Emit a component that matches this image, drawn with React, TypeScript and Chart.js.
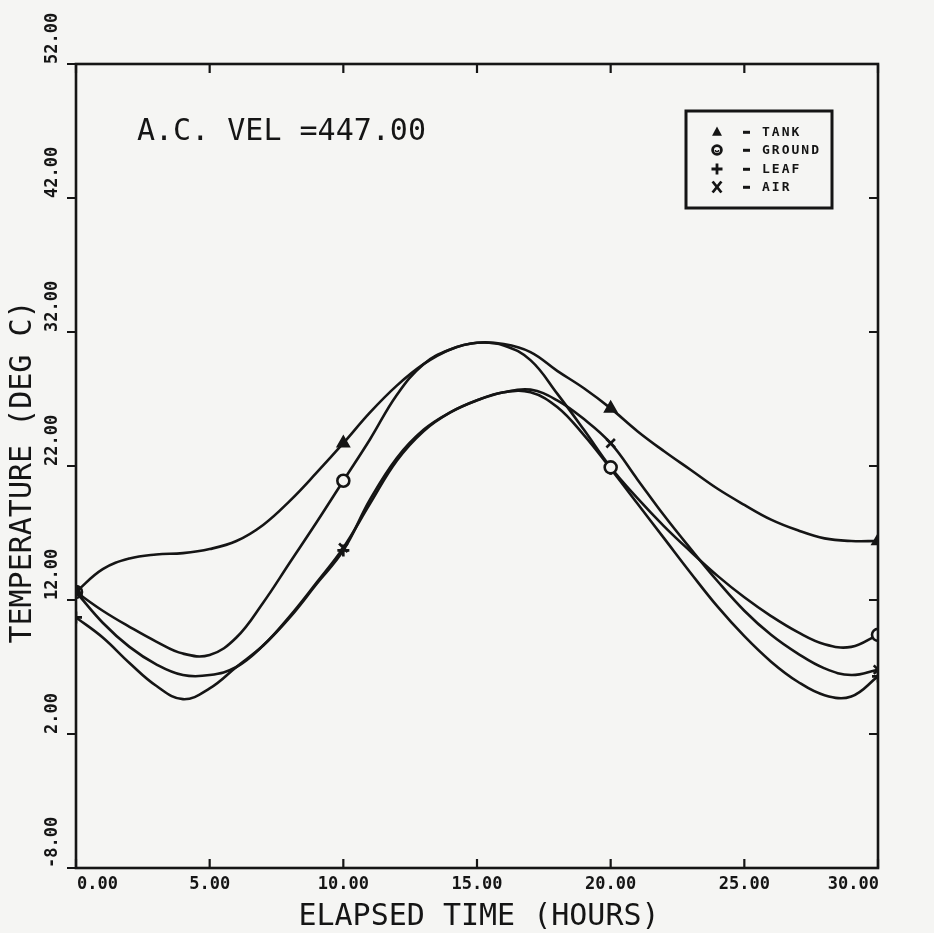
import React, { useEffect, useRef } from "react";
import { Chart, registerables } from "chart.js";

Chart.register(...registerables);

const HOURS = [0, 1, 2, 3, 4, 5, 6, 7, 8, 9, 10, 11, 12, 13, 14, 15, 16, 17, 18, 19, 20, 21, 22, 23, 24, 25, 26, 27, 28, 29, 30];
const TANK = [12.6, 14.3, 15.1, 15.4, 15.5, 15.8, 16.4, 17.6, 19.4, 21.5, 23.7, 26.0, 28.0, 29.6, 30.7, 31.2, 31.1, 30.5, 29.1, 27.8, 26.3, 24.6, 23.1, 21.7, 20.3, 19.1, 18.0, 17.2, 16.6, 16.4, 16.4];
const GROUND = [12.6, 11.2, 10.0, 8.9, 8.0, 7.9, 9.2, 11.8, 14.8, 17.8, 20.9, 24.0, 27.3, 29.6, 30.7, 31.2, 31.0, 29.9, 27.4, 24.7, 21.9, 19.6, 17.5, 15.6, 13.8, 12.2, 10.8, 9.6, 8.7, 8.5, 9.4];
const LEAF = [10.7, 9.2, 7.3, 5.6, 4.6, 5.4, 7.0, 8.6, 10.7, 13.2, 15.7, 19.5, 22.6, 24.7, 26.0, 26.9, 27.5, 27.5, 26.4, 24.3, 21.8, 19.2, 16.6, 14.0, 11.5, 9.3, 7.4, 5.9, 4.9, 4.8, 6.3];
const AIR = [12.6, 10.3, 8.5, 7.2, 6.4, 6.4, 7.0, 8.6, 10.8, 13.3, 15.9, 19.2, 22.4, 24.6, 26.0, 26.9, 27.5, 27.7, 26.9, 25.5, 23.7, 21.0, 18.3, 15.8, 13.4, 11.2, 9.4, 8.0, 6.9, 6.4, 6.8];

const SERIES_NAMES = ["TANK", "GROUND", "LEAF", "AIR"];
const SERIES_MARKERS = ["triangle", "circle", "cross", "crossRot"];
const MARKER_HOURS = [0, 10, 20, 30];

const X_TICKS = [0, 5, 10, 15, 20, 25, 30];
const X_TICK_LABELS = ["0.00", "5.00", "10.00", "15.00", "20.00", "25.00", "30.00"];
const Y_TICKS = [-8, 2, 12, 22, 32, 42, 52];
const Y_TICK_LABELS = ["-8.00", "2.00", "12.00", "22.00", "32.00", "42.00", "52.00"];

const X_TITLE = "ELAPSED TIME (HOURS)";
const Y_TITLE = "TEMPERATURE (DEG C)";
const NOTE = "A.C. VEL =447.00";

const INK = "#151515";
const PAPER = "#f5f5f3";
const MONO = '"DejaVu Sans Mono", "Liberation Mono", monospace';

function drawMarker(ctx: CanvasRenderingContext2D, style: string, x: number, y: number, r: number) {
  ctx.save();
  ctx.strokeStyle = INK;
  ctx.fillStyle = INK;
  ctx.lineWidth = 2.8;
  ctx.beginPath();
  if (style === "triangle") {
    ctx.moveTo(x, y - r);
    ctx.lineTo(x + r * 0.9, y + r * 0.7);
    ctx.lineTo(x - r * 0.9, y + r * 0.7);
    ctx.closePath();
    ctx.fill();
  } else if (style === "circle") {
    ctx.arc(x, y, r * 0.8, 0, Math.PI * 2);
    ctx.stroke();
    ctx.beginPath();
    ctx.lineWidth = 1.5;
    ctx.arc(x, y, r * 0.3, 0, Math.PI);
    ctx.stroke();
  } else if (style === "cross") {
    ctx.moveTo(x - r, y);
    ctx.lineTo(x + r, y);
    ctx.moveTo(x, y - r);
    ctx.lineTo(x, y + r);
    ctx.stroke();
  } else {
    ctx.moveTo(x - r * 0.8, y - r);
    ctx.lineTo(x + r * 0.8, y + r);
    ctx.moveTo(x + r * 0.8, y - r);
    ctx.lineTo(x - r * 0.8, y + r);
    ctx.stroke();
  }
  ctx.restore();
}

const plotterPlugin = {
  id: "plotter",
  beforeDraw(chart: any) {
    const ctx = chart.ctx;
    ctx.save();
    ctx.fillStyle = PAPER;
    ctx.fillRect(0, 0, chart.width, chart.height);
    ctx.restore();
  },
  afterDraw(chart: any) {
    const ctx: CanvasRenderingContext2D = chart.ctx;
    const a = chart.chartArea;
    const xs = chart.scales.x;
    const ys = chart.scales.y;
    ctx.save();
    ctx.strokeStyle = INK;
    ctx.fillStyle = INK;
    ctx.lineWidth = 2.6;
    ctx.strokeRect(a.left, a.top, a.right - a.left, a.bottom - a.top);

    // tick marks
    ctx.lineWidth = 2.2;
    ctx.beginPath();
    X_TICKS.forEach((v) => {
      const px = xs.getPixelForValue(v);
      ctx.moveTo(px, a.bottom);
      ctx.lineTo(px, a.bottom - 9);
      ctx.moveTo(px, a.top);
      ctx.lineTo(px, a.top + 9);
    });
    Y_TICKS.forEach((v) => {
      const py = ys.getPixelForValue(v);
      ctx.moveTo(a.left, py);
      ctx.lineTo(a.left - 9, py);
      ctx.moveTo(a.right, py);
      ctx.lineTo(a.right - 9, py);
    });
    ctx.stroke();

    // x tick labels
    ctx.font = `bold 17px ${MONO}`;
    ctx.textBaseline = "top";
    X_TICKS.forEach((v, i) => {
      const px = xs.getPixelForValue(v);
      if (i === 0) {
        ctx.textAlign = "left";
        ctx.fillText(X_TICK_LABELS[i], px + 1, a.bottom + 8);
      } else if (i === X_TICKS.length - 1) {
        ctx.textAlign = "right";
        ctx.fillText(X_TICK_LABELS[i], px + 1, a.bottom + 8);
      } else {
        ctx.textAlign = "center";
        ctx.fillText(X_TICK_LABELS[i], px, a.bottom + 8);
      }
    });

    // y tick labels (rotated)
    Y_TICKS.forEach((v, i) => {
      const py = ys.getPixelForValue(v);
      ctx.save();
      ctx.translate(57, py);
      ctx.rotate(-Math.PI / 2);
      ctx.textAlign = "left";
      ctx.textBaseline = "alphabetic";
      ctx.fillText(Y_TICK_LABELS[i], 0, 0);
      ctx.restore();
    });

    // titles
    ctx.font = `30px ${MONO}`;
    ctx.textAlign = "center";
    ctx.textBaseline = "alphabetic";
    ctx.fillText(X_TITLE, (a.left + a.right) / 2 + 2, 925);
    ctx.save();
    ctx.translate(31, (a.top + a.bottom) / 2 + 6);
    ctx.rotate(-Math.PI / 2);
    ctx.fillText(Y_TITLE, 0, 0);
    ctx.restore();

    // note
    ctx.textAlign = "left";
    ctx.fillText(NOTE, 137, 140);

    // legend box
    ctx.lineWidth = 3;
    ctx.strokeRect(686, 111, 146, 97);
    ctx.font = `bold 13px ${MONO}`;
    (ctx as any).letterSpacing = "2px";
    ctx.textBaseline = "middle";
    const rows = [132, 150, 169, 187];
    chart.data.datasets.forEach((ds: any, i: number) => {
      const y = rows[i];
      drawMarker(ctx, SERIES_MARKERS[i], 717, y, 5.5);
      ctx.fillRect(743, y - 1.2, 7, 3);
      ctx.fillText(ds.label, 762, y + 1);
    });
    ctx.restore();
  },
};

export default function App() {
  const ref = useRef<HTMLCanvasElement | null>(null);
  useEffect(() => {
    if (!ref.current) return;
    const series = [TANK, GROUND, LEAF, AIR];
    const chart = new Chart(ref.current, {
      type: "line",
      data: {
        datasets: series.map((vals, si) => ({
          label: SERIES_NAMES[si],
          data: HOURS.map((h, i) => ({ x: h, y: vals[i] })),
          borderColor: INK,
          borderWidth: 2.6,
          tension: 0.4,
          fill: false,
          pointStyle: SERIES_MARKERS[si] as any,
          pointRadius: (c: any) => (MARKER_HOURS.includes(HOURS[c.dataIndex]) ? 6 : 0),
          pointHoverRadius: 0,
          pointBorderColor: INK,
          pointBorderWidth: 2.6,
          pointBackgroundColor: SERIES_MARKERS[si] === "circle" ? PAPER : INK,
        })),
      },
      options: {
        animation: false,
        responsive: false,
        devicePixelRatio: 1,
        events: [],
        layout: { padding: { left: 76, right: 56, top: 64, bottom: 65 } },
        scales: {
          x: { type: "linear", min: 0, max: 30, display: false },
          y: { type: "linear", min: -8, max: 52, display: false },
        },
        plugins: { legend: { display: false }, tooltip: { enabled: false } },
      },
      plugins: [plotterPlugin],
    });
    return () => chart.destroy();
  }, []);
  return (
    <div style={{ position: "fixed", left: 0, top: 0, width: 934, height: 933, background: PAPER }}>
      <canvas ref={ref} width={934} height={933} style={{ display: "block" }} />
    </div>
  );
}
